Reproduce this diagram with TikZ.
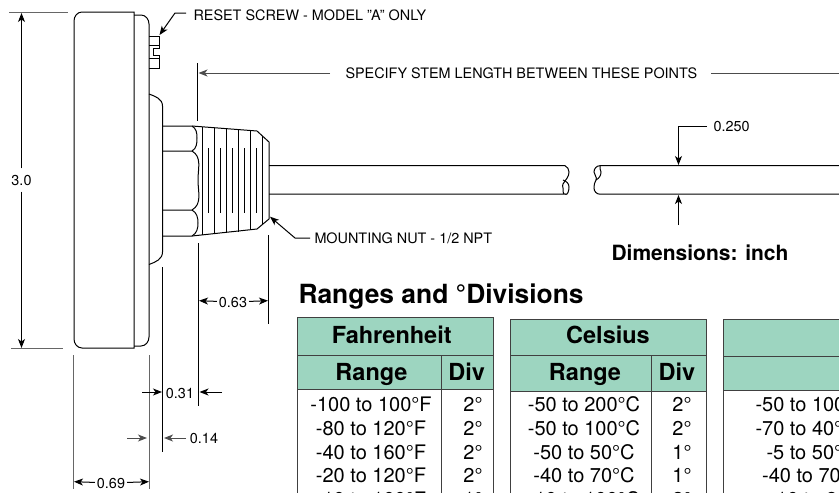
\documentclass[tikz,border=0pt]{standalone}
\usepackage{fontspec}
\setmainfont{TeX Gyre Heros}
\usetikzlibrary{arrows.meta}
\definecolor{hdrgreen}{HTML}{9DD5C0}
\tikzset{
  dim/.style={font=\fontsize{14.4}{16}\selectfont,inner sep=1.5pt},
  note/.style={font=\fontsize{14.4}{16}\selectfont,inner sep=0pt,anchor=west},
  hdr/.style={font=\fontsize{23.5}{26}\selectfont\bfseries,inner sep=0pt,anchor=base},
  cell/.style={font=\fontsize{20}{24}\selectfont,inner sep=0pt,anchor=base},
  ext/.style={black!60,line width=1pt},
  part/.style={line width=1pt},
  rule/.style={black!75,line width=1pt}
}
\begin{document}
\begin{tikzpicture}[x=1pt,y=-1pt,>={Stealth[length=9pt,width=7pt,inset=2.5pt]},line width=1pt]
          \useasboundingbox (0,0) rectangle (839,493);
          \clip (0,0) rectangle (839,493);

          % gauge body
          \draw[part] (134,12) -- (82,12) to[out=180,in=90] (74,21) -- (74,339)
                      to[out=-90,in=180] (82,348) -- (134,348) -- cycle;
          \draw[part] (134,15) -- (141,15) to[out=0,in=90] (149,24) -- (149,337)
                      to[out=-90,in=0] (141,346) -- (134,346);
          \draw[part] (149,36) -- (159,36) -- (159,48.3) -- (153.3,48.3) -- (153.3,55) -- (159,55)
                      -- (159,68) -- (149,68);
          \draw[part] (149,45.7) -- (159,45.7);
          \draw[part] (149,58.3) -- (159,58.3);
          \draw[part] (149,94) to[out=-20,in=90] (162.5,106) -- (162.5,252) to[out=-90,in=20] (149,264.5);

          % hex nut
          \draw[part] (162.5,126) -- (192,126) to[out=-30,in=90] (197,138) to[out=-90,in=30] (192,151) -- (162.5,151);
          \draw[part] (192,151) to[out=-30,in=90] (198,180) to[out=-90,in=30] (192,210) -- (162.5,210);
          \draw[part] (192,210) to[out=-30,in=90] (198,223) to[out=-90,in=30] (192,236) -- (162.5,236);

          % knurled bushing
          \draw[part] (192,126) -- (257,131) -- (269,142) -- (269,219) -- (257,229) -- (192,236);
          \foreach \x/\y/\z in {202.5/127/235, 214/128/234, 226/128/233, 238/129/232, 250/130/230, 262/136/224}
            \draw[part] (\x,\y) -- (\x,\z);
          \foreach \x in {208,220,232,244,256}
            \draw[part] (\x,148) -- (\x,213);

          % stem
          \draw[part] (269,165.7) -- (565,165.7) to[out=-30,in=90] (569,172) to[out=-90,in=60] (563,184)
                      to[out=-120,in=100] (563,188) to[out=-80,in=180] (565,194.2) -- (269,194.2);
          \draw[part] (565,194.2) to[out=-30,in=-90] (569,187) to[out=90,in=-20] (563,180);
          \draw[part] (839,165.7) -- (600,165.7) to[out=180,in=90] (594,172) to[out=-90,in=60] (596,180)
                      to[out=-120,in=90] (594,188) to[out=-90,in=180] (600,194.2) -- (839,194.2);
          \draw[part] (600,165.7) to[out=-120,in=90] (601,172) to[out=-90,in=30] (596,180);

          % extension lines
          \draw[ext] (9,12) -- (68,12);
          \draw[ext] (11,348.7) -- (63,348.7);
          \draw (197.5,63) -- (197.5,121);
          \draw (198.5,243) -- (198.5,405.7);
          \draw (268.5,235) -- (268.5,324);
          \draw (162.7,267) -- (162.7,451.7);
          \draw[ext] (149,355) -- (149,489);
          \draw[ext] (73.5,355) -- (73.5,489);

          % dimensions
          \coordinate (top30) at (21.5,13);
          \coordinate (bot30) at (21.5,348);
          \node[dim,inner ysep=6pt] (d30) at (21.5,180) {3.0};
          \path (d30) edge[->] (top30)
                      edge[->] (bot30);

          \coordinate (lft63) at (199,300.7);
          \coordinate (rgt63) at (268,300.7);
          \node[dim] (d63) at (233,302) {0.63};
          \path (d63) edge[->] (lft63)
                      edge[->] (rgt63);

          \node[dim] (d31) at (180,393) {0.31};
          \coordinate (a31) at (142,392);
          \coordinate (b31) at (162,392);
          \coordinate (c31) at (222,392);
          \coordinate (e31) at (199.5,392);
          \path (a31) edge[->] (b31);
          \path (c31) edge[->] (e31);

          \node[dim] (d14) at (204,438) {0.14};
          \coordinate (a14) at (127,438);
          \coordinate (b14) at (147,438);
          \coordinate (c14) at (186,438);
          \coordinate (e14) at (164,438);
          \path (a14) edge[->,black!70] (b14);
          \path (c14) edge[->,black!70] (e14);

          \coordinate (lft69) at (74,481.7);
          \coordinate (rgt69) at (149,481.7);
          \node[dim] (d69) at (111,483) {0.69};
          \path (d69) edge[->] (lft69)
                      edge[->] (rgt69);

          \node[note] (stem) at (345,73) {SPECIFY STEM LENGTH BETWEEN THESE POINTS};
          \coordinate (stemtip) at (198.5,73);
          \coordinate (stemend) at (330,73);
          \coordinate (stemrgt) at (711,73);
          \coordinate (edgergt) at (839,73);
          \path (stemend) edge[->,black!70] (stemtip);
          \path (stemrgt) edge[black!70] (edgergt);

          % leaders
          \node[note] (screw) at (193,15) {RESET SCREW - MODEL "A" ONLY};
          \coordinate (scr0) at (186,13);
          \coordinate (scr1) at (175,13);
          \coordinate (scr2) at (159.5,35);
          \draw[->] (scr0) -- (scr1) -- (scr2);

          \node[note] (nut) at (314,238) {MOUNTING NUT - 1/2 NPT};
          \coordinate (nut0) at (310,238);
          \coordinate (nut1) at (295,238);
          \coordinate (nut2) at (270,216.7);
          \draw[->] (nut0) -- (nut1) -- (nut2);

          \node[note] (dia) at (713,127) {0.250};
          \coordinate (dia0) at (707,126);
          \coordinate (dia1) at (678.5,126);
          \coordinate (dia2) at (678.5,165);
          \coordinate (dia3) at (678.5,225);
          \coordinate (dia4) at (678.5,195);
          \draw[->] (dia0) -- (dia1) -- (dia2);
          \path (dia3) edge[->] (dia4);

          \node[font=\fontsize{21}{24}\selectfont\bfseries,inner sep=0pt,anchor=base] (units) at (700,260) {Dimensions: inch};
          \node[font=\fontsize{26.4}{30}\selectfont\bfseries,inner sep=0pt,anchor=base west] (title) at (298,303.3) {Ranges and °Divisions};

          % tables
          \fill[hdrgreen] (297,317.5) rectangle (493,389.5);
          \fill[hdrgreen] (510,319.5) rectangle (706.5,391.5);
          \fill[hdrgreen] (723.5,319.5) rectangle (860,390.5);
          \draw[rule] (297,520) -- (297,317.5) -- (493,317.5) -- (493,520);
          \draw[rule] (297,355) -- (493,355);
          \draw[rule] (297,389.5) -- (493,389.5);
          \draw[rule] (441,355) -- (441,520);
          \draw[rule] (510,520) -- (510,319.5) -- (706.5,319.5) -- (706.5,520);
          \draw[rule] (510,355) -- (706.5,355);
          \draw[rule] (510,391.5) -- (706.5,391.5);
          \draw[rule] (651.7,355) -- (651.7,520);
          \draw[rule] (723.5,520) -- (723.5,319.5) -- (860,319.5);
          \draw[rule] (723.5,356) -- (860,356);
          \draw[rule] (723.5,390.5) -- (860,390.5);

          \node[hdr] (fahr) at (391.7,343.5) {Fahrenheit};
          \node[hdr] (frng) at (371.5,380) {Range};
          \node[hdr] (fdiv) at (466.7,380) {Div};
          \node[hdr] (cels) at (608,343.5) {Celsius};
          \node[hdr] (crng) at (585,380) {Range};
          \node[hdr] (cdiv) at (677,380) {Div};

          \foreach \i/\y/\rng/\dv in {1/411.5/-100 to 100°F/2°, 2/435.3/-80 to 120°F/2°, 3/459.1/-40 to 160°F/2°, 4/482.9/-20 to 120°F/2°, 5/506/-10 to 100°F/1°}
            \node[cell] (f\i) at (371,\y) {\rng} node[cell] (g\i) at (473,\y) {\dv};
          \foreach \i/\y/\rng/\dv in {1/411.5/-50 to 200°C/2°, 2/435.3/-50 to 100°C/2°, 3/459.1/-50 to 50°C/1°, 4/482.9/-40 to 70°C/1°, 5/506/-10 to 100°C/2°}
            \node[cell] (c\i) at (584,\y) {\rng} node[cell] (d\i) at (682,\y) {\dv};
          \foreach \i/\x/\y/\rng in {1/755/411.5/-50 to 100, 2/755/435.3/-70 to 40°, 3/766/459.1/-5 to 50°, 4/761.6/482.9/-40 to 70, 5/769/506/-10 to 8}
            \node[cell,anchor=base west] (k\i) at (\x,\y) {\rng};
        \end{tikzpicture}
\end{document}
